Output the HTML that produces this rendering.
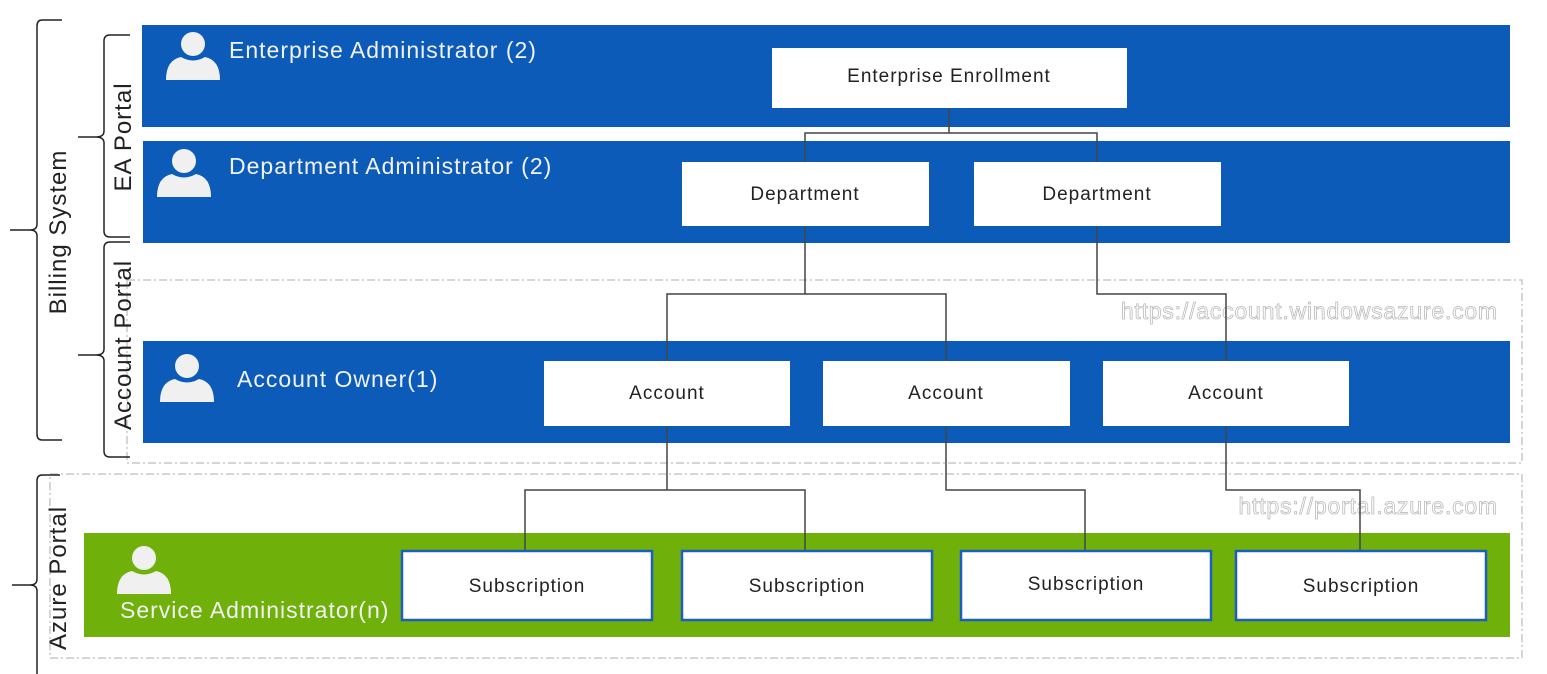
<!DOCTYPE html>
<html><head><meta charset="utf-8"><style>
html,body{margin:0;padding:0;background:#fff;}
svg{display:block;}
text{font-family:"Liberation Sans",sans-serif;}
</style></head><body>
<svg width="1547" height="674" viewBox="0 0 1547 674" xmlns="http://www.w3.org/2000/svg">
<defs>
<g id="person"><circle cx="0" cy="-14" r="12" fill="#f0f0f0"/><path d="M-27 22 Q-27 2 -12 -1 Q0 6 12 -1 Q27 2 27 22 Z" fill="#f0f0f0"/></g>
</defs>
<rect x="127" y="280" width="1395" height="183" fill="none" stroke="#c8c8c8" stroke-width="1.5" stroke-dasharray="8,3,2,3"/>
<rect x="50" y="474" width="1472" height="184" fill="none" stroke="#c8c8c8" stroke-width="1.5" stroke-dasharray="8,3,2,3"/>
<rect x="142" y="25" width="1368" height="102" fill="#0c5bb9"/>
<rect x="143" y="141" width="1367" height="102" fill="#0c5bb9"/>
<rect x="143" y="341" width="1367" height="102" fill="#0c5bb9"/>
<rect x="84" y="533" width="1426" height="104" fill="#6fb00a"/>
<text x="1498" y="319" text-anchor="end" font-size="23" letter-spacing="0.8" fill="#fff" stroke="#bbb" stroke-width="0.8">https://account.windowsazure.com</text>
<text x="1498" y="514" text-anchor="end" font-size="23" letter-spacing="0.8" fill="#fff" stroke="#bbb" stroke-width="0.8">https://portal.azure.com</text>
<g fill="none" stroke="#444" stroke-width="1.5">
<path d="M949 108V133M805 162V133H1097V162"/>
<path d="M805 226V294M667 361V294H946V361"/>
<path d="M1097 226V294H1226V361"/>
<path d="M667 426V490M525 551V490H805V551"/>
<path d="M946 426V490H1085V551"/>
<path d="M1226 426V490H1360V551"/>
</g>
<g fill="#fff">
<rect x="772" y="48" width="355" height="60"/>
<rect x="682" y="162" width="247" height="64"/>
<rect x="974" y="162" width="247" height="64"/>
<rect x="544" y="361" width="246" height="65"/>
<rect x="823" y="361" width="247" height="65"/>
<rect x="1103" y="361" width="246" height="65"/>
</g>
<g fill="#fff" stroke="#1a5fc0" stroke-width="2.5">
<rect x="402" y="551" width="250" height="69"/>
<rect x="682" y="551" width="250" height="69"/>
<rect x="961" y="551" width="250" height="69"/>
<rect x="1236" y="551" width="250" height="69"/>
</g>
<g font-size="19" letter-spacing="1" fill="#222" text-anchor="middle">
<text x="949" y="82">Enterprise Enrollment</text>
<text x="805" y="200">Department</text>
<text x="1097" y="200">Department</text>
<text x="667" y="399">Account</text>
<text x="946" y="399">Account</text>
<text x="1226" y="399">Account</text>
<text x="527" y="592">Subscription</text>
<text x="807" y="592">Subscription</text>
<text x="1086" y="590">Subscription</text>
<text x="1361" y="592">Subscription</text>
</g>
<use href="#person" x="193" y="58"/>
<use href="#person" x="184" y="175"/>
<use href="#person" x="187" y="380"/>
<use href="#person" x="144" y="572"/>
<g font-size="23" letter-spacing="1" fill="#f2f2f2">
<text x="229" y="58">Enterprise Administrator (2)</text>
<text x="229" y="174">Department Administrator (2)</text>
<text x="237" y="387">Account Owner(1)</text>
<text x="120" y="618">Service Administrator(n)</text>
</g>
<g fill="none" stroke="#222" stroke-width="1.5">
<path d="M62 20H42Q37 20 37 26V224Q37 230 30 230H10M30 230Q37 230 37 236V434Q37 440 42 440H62"/>
<path d="M130 35H110Q104 35 104 41V131Q104 137 96 137H78M96 137Q104 137 104 143V231Q104 237 110 237H130"/>
<path d="M130 242H110Q104 242 104 248V349Q104 355 96 355H78M96 355Q104 355 104 361V451Q104 457 110 457H130"/>
<path d="M60 475H42Q37 475 37 481V579Q37 585 30 585H12M30 585Q37 585 37 591V674"/>
</g>
<g font-size="24" letter-spacing="1" fill="#222" text-anchor="middle">
<text transform="translate(66 232) rotate(-90)">Billing System</text>
<text transform="translate(131 137) rotate(-90)">EA Portal</text>
<text transform="translate(131 345) rotate(-90)">Account Portal</text>
<text transform="translate(66 578) rotate(-90)">Azure Portal</text>
</g>
</svg>
</body></html>
